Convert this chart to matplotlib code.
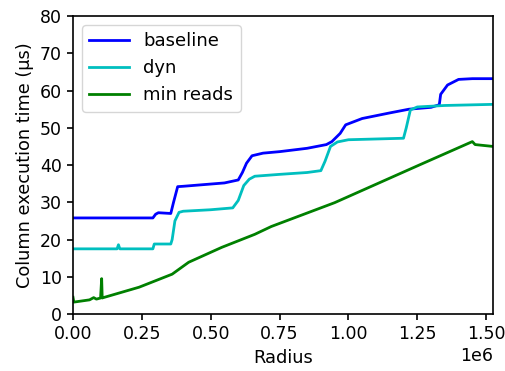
import matplotlib
matplotlib.use("Agg")
import matplotlib.pyplot as plt
from matplotlib.ticker import MultipleLocator

# radius values are in units of 1e6
baseline_x = [0, 0.29, 0.30, 0.31, 0.355, 0.365, 0.38, 0.40, 0.45, 0.55, 0.60, 0.615,
              0.63, 0.65, 0.69, 0.75, 0.85, 0.92, 0.94, 0.97, 0.99, 1.05, 1.15, 1.22,
              1.30, 1.33, 1.335, 1.36, 1.40, 1.45, 1.525]
baseline_y = [25.8, 25.8, 26.8, 27.2, 27.0, 30.0, 34.2, 34.3, 34.6, 35.2, 36.0, 38.0,
              40.5, 42.5, 43.2, 43.6, 44.5, 45.5, 46.3, 48.5, 50.8, 52.5, 54.0, 55.0,
              55.5, 56.2, 59.0, 61.5, 63.0, 63.2, 63.2]

dyn_x = [0, 0.16, 0.165, 0.17, 0.29, 0.295, 0.355, 0.36, 0.37, 0.385, 0.40, 0.50,
         0.58, 0.60, 0.62, 0.64, 0.66, 0.75, 0.85, 0.90, 0.915, 0.935, 0.96, 1.00,
         1.10, 1.20, 1.21, 1.225, 1.25, 1.35, 1.525]
dyn_y = [17.5, 17.5, 18.6, 17.5, 17.5, 18.8, 18.8, 20.0, 25.0, 27.3, 27.6, 28.0,
         28.5, 30.5, 34.5, 36.2, 37.0, 37.5, 38.0, 38.5, 41.0, 45.0, 46.2, 46.8,
         47.0, 47.2, 50.0, 54.8, 55.6, 56.0, 56.3]

minreads_x = [0, 0.003, 0.06, 0.075, 0.085, 0.10, 0.104, 0.106, 0.11, 0.24, 0.36,
              0.42, 0.54, 0.66, 0.72, 0.95, 1.26, 1.45, 1.46, 1.525]
minreads_y = [4.5, 3.2, 3.8, 4.4, 4.0, 4.3, 9.5, 4.3, 4.4, 7.2, 10.7,
              13.9, 17.9, 21.4, 23.5, 29.9, 40.1, 46.3, 45.5, 45.0]

fig = plt.figure(figsize=(5.06, 3.71), dpi=100)
ax = fig.add_axes([0.1443, 0.1536, 0.830, 0.803])

ax.plot([x * 1e6 for x in baseline_x], baseline_y, color='b', lw=2, label='baseline')
ax.plot([x * 1e6 for x in dyn_x], dyn_y, color='c', lw=2, label='dyn')
ax.plot([x * 1e6 for x in minreads_x], minreads_y, color='g', lw=2, label='min reads')

ax.set_xlim(0, 1.525e6)
ax.set_ylim(0, 80)
ax.xaxis.set_major_locator(MultipleLocator(0.25e6))
ax.set_xlabel('Radius', fontsize=12.8)
ax.set_ylabel('Column execution time (µs)', fontsize=12.8)
ax.tick_params(labelsize=12.5, width=1.2, length=4.5)
for s in ax.spines.values():
    s.set_linewidth(1.2)
ax.xaxis.get_offset_text().set_fontsize(12.5)
ax.legend(loc='upper left', fontsize=13, handlelength=2.2)

fig.savefig('out.png', dpi=100)
